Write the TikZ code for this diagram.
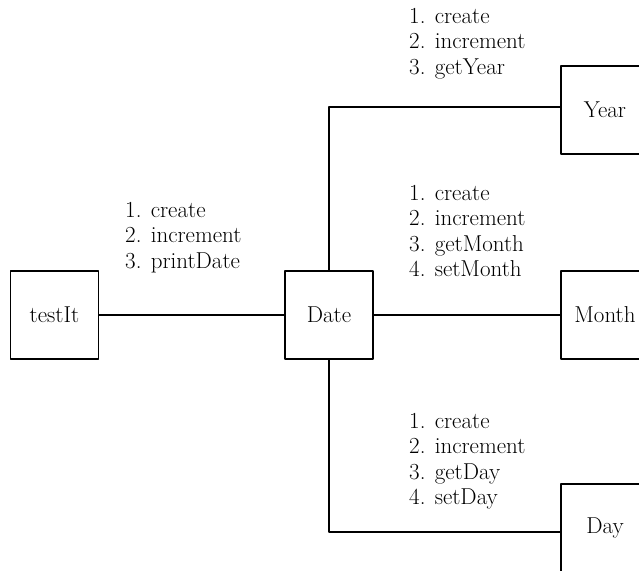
\documentclass[tikz,border=0pt]{standalone}
\begin{document}
\begin{tikzpicture}[x=1pt,y=-1pt,line join=round,font=\fontsize{23}{25.5}\selectfont,
	box/.style={draw,line width=1.6pt,minimum size=88pt,inner sep=0pt},
	calls/.style={anchor=north west,align=left,inner sep=0pt}]
	\clip (0,0) rectangle (639,570);
	\path
	(54.5,315) node[box](testIt){testIt}
	(329,315) node[box](date){Date}
	(605,110) node[box](year){Year}
	(605,315) node[box](month){Month}
	(605,528) node[box](day){Day};
	\draw[line width=1.6pt] (testIt) -- (date);
	\draw[line width=1.6pt] (date) -- (month);
	\draw[line width=1.6pt] (date.north) |- ([yshift=3pt]year.west);
	\draw[line width=1.6pt] (date.south) |- ([yshift=-4pt]day.west);
	\path
	(125,202) node[calls](lblDate){1. create\\2. increment\\3. printDate}
	(409,8) node[calls](lblYear){1. create\\2. increment\\3. getYear}
	(409,185) node[calls](lblMonth){1. create\\2. increment\\3. getMonth\\4. setMonth}
	(409,413) node[calls](lblDay){1. create\\2. increment\\3. getDay\\4. setDay};
\end{tikzpicture}
\end{document}
